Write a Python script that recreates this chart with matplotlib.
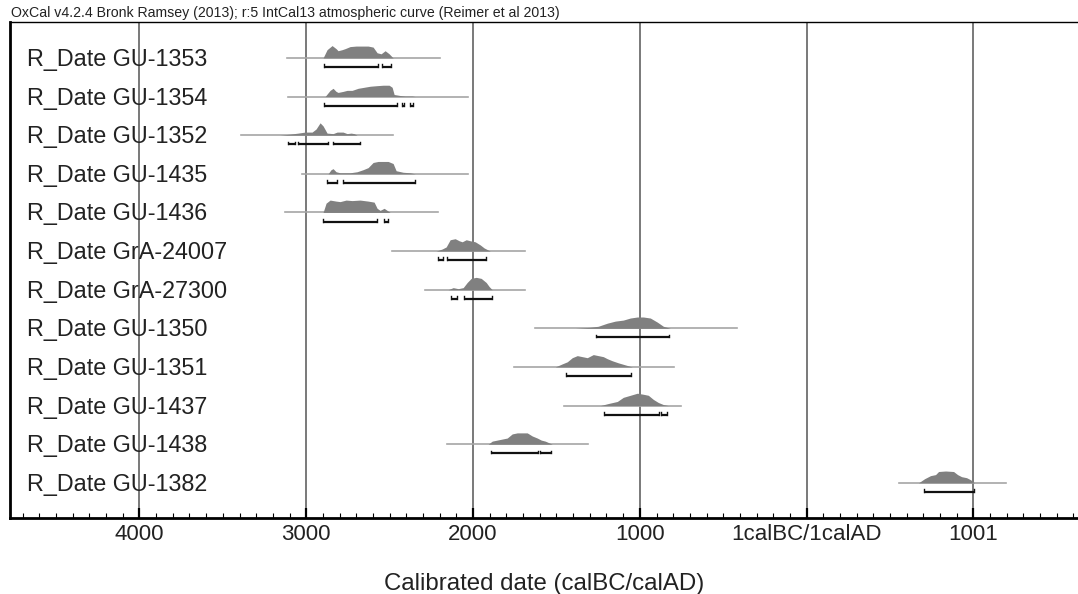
import matplotlib
matplotlib.use("Agg")
import matplotlib.pyplot as plt
import matplotlib.transforms as mtransforms
from matplotlib.ticker import FixedLocator, MultipleLocator

plt.rcParams['font.family'] = ['Liberation Sans', 'DejaVu Sans']

# sample names, top to bottom
names = ["R_Date GU-1353", "R_Date GU-1354", "R_Date GU-1352", "R_Date GU-1435",
         "R_Date GU-1436", "R_Date GrA-24007", "R_Date GrA-27300", "R_Date GU-1350",
         "R_Date GU-1351", "R_Date GU-1437", "R_Date GU-1438", "R_Date GU-1382"]

# years are cal BC (negative = cal AD)
# likelihood extent (grey line)
spans = [(3115, 2197), (3109, 2029), (3391, 2479), (3025, 2029), (3127, 2209),
         (2485, 1687), (2287, 1687), (1627, 415), (1753, 793), (1453, 751),
         (2155, 1309), (-551, -1193)]

# probability distributions: years and relative heights
yr1353 = [2899, 2875, 2845, 2821, 2809, 2785, 2767, 2737, 2701, 2665, 2629, 2599, 2575, 2551, 2527, 2503, 2479]
p1353 = [0, 8, 12, 9, 7, 8, 9, 11, 11.5, 11.5, 11.5, 10.5, 5, 4, 7, 4, 0]
yr1354 = [2887, 2857, 2839, 2821, 2809, 2779, 2755, 2725, 2689, 2653, 2617, 2581, 2539, 2503, 2485, 2473, 2437, 2407, 2365, 2347]
p1354 = [0, 6, 8, 5, 4, 5, 6, 6, 8, 9, 10, 10.5, 11, 11, 9, 2, 1, 0.5, 0.5, 0]
yr1352 = [3157, 3097, 3049, 3007, 2965, 2941, 2917, 2899, 2875, 2839, 2815, 2779, 2755, 2731, 2713, 2695]
p1352 = [0, 1, 2, 3, 3, 6, 12, 9, 2, 1.5, 3, 3, 1.5, 2, 1.5, 0]
yr1435 = [2869, 2851, 2839, 2821, 2797, 2737, 2695, 2659, 2629, 2599, 2569, 2509, 2479, 2461, 2419, 2377, 2347]
p1435 = [0, 4, 5, 2, 1, 1, 2, 4, 6, 11, 12, 12, 10, 3, 1.5, 1, 0]
yr1436 = [2899, 2881, 2857, 2821, 2797, 2761, 2725, 2677, 2629, 2593, 2575, 2557, 2533, 2515, 2497]
p1436 = [0, 9, 12, 11, 10.5, 12, 11.5, 12, 11, 10, 4, 2, 4, 2, 0]
yr24007 = [2221, 2185, 2161, 2137, 2107, 2083, 2065, 2041, 2017, 1987, 1957, 1933, 1897]
p24007 = [0, 2, 4, 11, 12, 10, 9, 11, 10, 9, 6, 3, 0]
yr27300 = [2149, 2119, 2089, 2059, 2035, 2011, 1981, 1951, 1921, 1903, 1885]
p27300 = [0, 2, 1, 2, 7, 11, 12, 11, 7, 3, 0]
yr1350 = [1387, 1297, 1249, 1195, 1147, 1099, 1057, 1015, 979, 937, 895, 859, 817]
p1350 = [0, 1, 2, 5, 7, 8, 10, 11, 11, 10, 6, 2, 0]
yr1351 = [1507, 1465, 1435, 1405, 1375, 1345, 1315, 1279, 1249, 1219, 1195, 1165, 1129, 1087, 1045]
p1351 = [0, 3, 5, 9, 11, 10, 9, 12, 11, 10, 8, 6, 4, 2, 0]
yr1437 = [1237, 1189, 1135, 1099, 1057, 1015, 979, 949, 919, 889, 859, 829]
p1437 = [0, 2, 4, 8, 10, 12, 11, 10, 6, 3, 1, 0]
yr1438 = [1909, 1885, 1855, 1825, 1795, 1765, 1735, 1705, 1675, 1645, 1615, 1591, 1567, 1525]
p1438 = [0, 3, 4, 5, 6, 10, 11, 11, 11, 8, 6, 4, 3, 0]
yr1382 = [-671, -707, -743, -773, -791, -833, -881, -905, -929, -959, -983, -1007]
p1382 = [0, 4, 7, 8, 11, 11.5, 11, 8, 6, 5, 3, 0]

dists = [(yr1353, p1353), (yr1354, p1354), (yr1352, p1352), (yr1435, p1435),
         (yr1436, p1436), (yr24007, p24007), (yr27300, p27300), (yr1350, p1350),
         (yr1351, p1351), (yr1437, p1437), (yr1438, p1438), (yr1382, p1382)]

# 95.4% ranges
ranges = [[(2893, 2569), (2545, 2491)],
          [(2893, 2455), (2425, 2413), (2377, 2359)],
          [(3109, 3067), (3049, 2869), (2839, 2677)],
          [(2875, 2815), (2779, 2347)],
          [(2899, 2575), (2533, 2509)],
          [(2209, 2179), (2155, 1921)],
          [(2131, 2095), (2053, 1885)],
          [(1261, 823)],
          [(1441, 1051)],
          [(1213, 883), (871, 835)],
          [(1891, 1609), (1597, 1531)],
          [(-701, -1001)]]

major_ticks = [4000, 3000, 2000, 1000, 0, -1000]
major_labels = ["4000", "3000", "2000", "1000", "1calBC/1calAD", "1001"]

fig = plt.figure(figsize=(10.78, 5.94), dpi=100)
ax = fig.add_axes([10 / 1078, 76 / 594, 1 - 10 / 1078, 496 / 594])
ax.set_xlim(4776, -1627)
ax.set_ylim(11.91, -0.93)

for x in major_ticks:
    ax.axvline(x, color='#6e6e6e', lw=1.3, zorder=1)

scale = 0.32 / 12
for i in range(len(names)):
    yrs, p = dists[i]
    ax.plot(spans[i], [i, i], color='#a6a6a6', lw=1.2, zorder=2)
    ax.fill_between(yrs, i, [i - v * scale for v in p], color='#808080', lw=0, zorder=3)
    yb = i + 0.235
    for a, b in ranges[i]:
        ax.plot([a, b], [yb, yb], color='#111111', lw=1.6, solid_capstyle='butt', zorder=4)
        ax.plot([a, a], [yb, yb - 0.07], color='#111111', lw=1.0, zorder=4)
        ax.plot([b, b], [yb, yb - 0.07], color='#111111', lw=1.0, zorder=4)

trans = mtransforms.blended_transform_factory(ax.transAxes, ax.transData)
for i, n in enumerate(names):
    ax.text(17 / 1068, i + 0.04, n, transform=trans, fontsize=16.8, color='#222222',
            va='center', ha='left', zorder=5)

ax.xaxis.set_major_locator(FixedLocator(major_ticks))
ax.set_xticklabels(major_labels)
ax.xaxis.set_minor_locator(MultipleLocator(100))
ax.tick_params(axis='x', which='major', direction='in', length=7, width=1.6,
               labelsize=16, labelcolor='#222222', pad=4.5)
ax.tick_params(axis='x', which='minor', direction='in', length=3.5, width=0.8)
ax.set_yticks([])

ax.spines['right'].set_visible(False)
ax.spines['left'].set_linewidth(2)
ax.spines['bottom'].set_linewidth(2)
ax.spines['top'].set_linewidth(1)

ax.set_xlabel("Calibrated date (calBC/calAD)", fontsize=17.3, color='#222222', labelpad=20)

fig.text(11 / 1078, 1 - 17 / 594,
         "OxCal v4.2.4 Bronk Ramsey (2013); r:5 IntCal13 atmospheric curve (Reimer et al 2013)",
         fontsize=10.2, color='#222222', va='baseline', ha='left')

fig.savefig("out.png", dpi=100)
